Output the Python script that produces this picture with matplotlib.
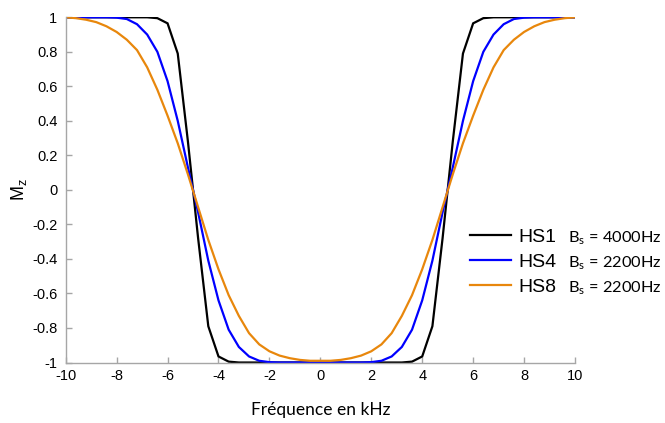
import matplotlib
matplotlib.use("Agg")
import matplotlib.pyplot as plt

freq = [-10.0, -9.6, -9.2, -8.8, -8.4, -8.0, -7.6, -7.2, -6.8, -6.4, -6.0, -5.6, -5.2,
        -4.8, -4.4, -4.0, -3.6, -3.2, -2.8, -2.4, -2.0, -1.6, -1.2, -0.8, -0.4, 0.0,
        0.4, 0.8, 1.2, 1.6, 2.0, 2.4, 2.8, 3.2, 3.6, 4.0, 4.4, 4.8, 5.2, 5.6, 6.0,
        6.4, 6.8, 7.2, 7.6, 8.0, 8.4, 8.8, 9.2, 9.6, 10.0]

hs1 = [1.0, 1.0, 1.0, 1.0, 1.0, 1.0, 1.0, 1.0, 1.0, 0.995, 0.965, 0.79, 0.28,
       -0.28, -0.79, -0.965, -0.995, -1.0, -1.0, -1.0, -1.0, -1.0, -1.0, -1.0, -1.0, -1.0,
       -1.0, -1.0, -1.0, -1.0, -1.0, -1.0, -1.0, -1.0, -0.995, -0.965, -0.79, -0.28, 0.28,
       0.79, 0.965, 0.995, 1.0, 1.0, 1.0, 1.0, 1.0, 1.0, 1.0, 1.0, 1.0]

hs4 = [1.0, 1.0, 1.0, 1.0, 1.0, 0.998, 0.99, 0.96, 0.90, 0.80, 0.63, 0.40, 0.13,
       -0.13, -0.41, -0.64, -0.81, -0.91, -0.965, -0.99, -0.998, -1.0, -1.0, -1.0, -1.0, -1.0,
       -1.0, -1.0, -1.0, -1.0, -0.998, -0.99, -0.965, -0.91, -0.81, -0.64, -0.41, -0.13, 0.13,
       0.40, 0.63, 0.80, 0.90, 0.96, 0.99, 0.998, 1.0, 1.0, 1.0, 1.0, 1.0]

hs8 = [1.0, 0.995, 0.986, 0.972, 0.948, 0.915, 0.87, 0.81, 0.71, 0.58, 0.43, 0.27, 0.09,
       -0.10, -0.29, -0.46, -0.61, -0.73, -0.83, -0.895, -0.935, -0.96, -0.975, -0.985, -0.99, -0.99,
       -0.99, -0.985, -0.975, -0.96, -0.935, -0.895, -0.83, -0.73, -0.61, -0.46, -0.29, -0.10, 0.09,
       0.27, 0.43, 0.58, 0.71, 0.81, 0.87, 0.915, 0.948, 0.972, 0.986, 0.995, 1.0]

series_names = ["HS1", "HS4", "HS8"]
bandwidths = ["4000Hz", "2200Hz", "2200Hz"]
colors = ["#000000", "#0000ff", "#e8870c"]

xticks = [-10, -8, -6, -4, -2, 0, 2, 4, 6, 8, 10]
xtick_labels = ["-10", "-8", "-6", "-4", "-2", "0", "2", "4", "6", "8", "10"]
yticks = [-1, -0.8, -0.6, -0.4, -0.2, 0, 0.2, 0.4, 0.6, 0.8, 1]
ytick_labels = ["-1", "-0.8", "-0.6", "-0.4", "-0.2", "0", "0.2", "0.4", "0.6", "0.8", "1"]

W, H = 665, 423
fig = plt.figure(figsize=(W / 100, H / 100), dpi=100)
ax = fig.add_axes([65.7 / W, (H - 362.5) / H, (575 - 65.7) / W, (362.5 - 17.3) / H])

lines = []
for y, c, n in zip([hs1, hs4, hs8], colors, series_names):
    ln, = ax.plot(freq, y, color=c, lw=1.6, label=n, solid_joinstyle="miter")
    lines.append(ln)

ax.set_xlim(-10, 10)
ax.set_ylim(-1, 1)
ax.set_xticks(xticks)
ax.set_xticklabels(xtick_labels, family="Liberation Sans", fontsize=10.5)
ax.set_yticks(yticks)
ax.set_yticklabels(ytick_labels, family="Liberation Sans", fontsize=10.5)
for s in ["top", "right"]:
    ax.spines[s].set_visible(False)
for s in ["left", "bottom"]:
    ax.spines[s].set_color("#a6a6a6")
    ax.spines[s].set_linewidth(1.0)
ax.tick_params(direction="in", length=4, color="#a6a6a6", width=1.0)
ax.tick_params(axis="x", pad=5)
ax.tick_params(axis="y", pad=6)

ax.set_xlabel("Fréquence en kHz", family="Lato", fontsize=12.5, labelpad=13)
ax.set_ylabel(r"M$_\mathregular{z}$", family="Liberation Sans", fontsize=13, labelpad=2)

leg = fig.legend(handles=lines, labels=series_names, loc="upper left",
                 bbox_to_anchor=(470 / W, (H - 228) / H), frameon=False,
                 prop={"family": "Liberation Sans", "size": 14},
                 handlelength=2.1, handletextpad=0.4, labelspacing=0.38,
                 borderpad=0, borderaxespad=0)

row_y = [236, 261, 286]
for yy, bw in zip(row_y, bandwidths):
    fig.text(568 / W, (H - yy - 6) / H, r"B$_\mathregular{s}$ = " + bw,
             family="Lato", fontsize=11.8, va="baseline", ha="left")

fig.savefig("out.png", dpi=100)
